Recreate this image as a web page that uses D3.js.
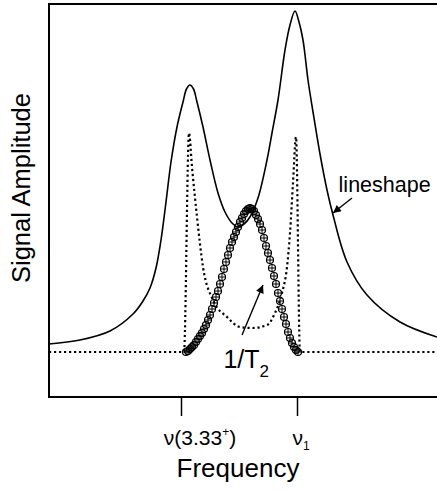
<!DOCTYPE html>
<html>
<head>
<meta charset="utf-8">
<script src="https://cdn.jsdelivr.net/npm/d3@7"></script>
<style>
  html, body { margin: 0; padding: 0; background: #fff; }
  svg { display: block; }
  text { font-family: "Liberation Sans", Arial, Helvetica, sans-serif; fill: #000; }
</style>
</head>
<body>
<svg id="chart" width="437" height="491"></svg>
<script>
// Frequency axis (arbitrary units, ν(3.33+) at 0) and tick labels
const tickFreqs = [0, 29];
const tickLabels = [
  [{t: "ν(3.33"}, {t: "+", sup: true}, {t: ")"}],
  [{t: "ν"}, {t: "1", sub: true}]
];

// Solid lineshape: frequency / amplitude samples
const lineFreq = [-33, -25.25, -17.75, -12, -9.5, -7.75, -6.25, -5, -3.75, -2.5, -1, 0.5, 1.375, 2.25, 3.125, 4, 5.5,
  7.25, 9.25, 11, 12.75, 14.25, 15.75, 17.25, 19.25, 21.5, 22.75, 24.25, 26, 27.25, 28.5, 29.5, 30.5, 31.75, 33,
  34.75, 36.5, 38, 41.5, 46.5, 54.75, 64];
const lineAmp = [8, 12, 21, 38, 51, 64, 84, 112, 150, 190, 225, 250, 263, 267, 263, 250, 225,
  192, 159, 140, 129, 125, 128, 135, 154, 192, 219, 252, 302, 327, 341, 330, 312, 272, 240,
  198, 162, 137, 90, 57, 30, 15];

// Dotted distribution curve
const dotFreq = [-33, 0.75, 2, 2.75, 4, 5.5, 8, 11.5, 14.75, 18, 21.5, 23.5, 25.25, 26.5, 27.25, 28, 28.75, 29.75, 64];
const dotAmp  = [0, 0, 219, 185, 135, 85, 52, 35, 25, 24, 27, 39, 59, 85, 119, 169, 215, 0, 0];

// 1/T2 points (circled-plus markers)
const t2Freq = [1.25, 1.75, 2.25, 2.75, 3.25, 3.75, 4.25, 4.75, 5.25, 5.75, 6.25, 6.75, 7.25, 7.75, 8.25, 8.75,
  9.25, 9.75, 10.25, 10.75, 11.25, 11.75, 12.25, 12.75, 13.25, 13.75, 14.25, 14.75, 15.25, 15.75, 16.25, 16.75,
  17.25, 17.75, 18.25, 18.75, 19.25, 19.75, 20.25, 20.75, 21.25, 21.75, 22.25, 22.75, 23.25, 23.75, 24.25, 24.75,
  25.25, 25.75, 26.25, 26.75, 27.25, 27.75, 28.25, 28.75, 29.25];
const t2Amp = [0, 1, 3, 5, 7, 10, 13, 16, 19, 23, 27, 32, 37, 43, 49, 55, 61, 68, 75, 83, 90, 97, 104, 110, 115,
  120, 125, 130, 134, 138, 141, 143, 144, 143, 141, 137, 133, 128, 122, 114, 106, 99, 92, 84, 76, 68, 59, 51,
  43, 35, 28, 20, 14, 9, 5, 2, 0];

const svg = d3.select("#chart");
const W = 437;
const plotLeft = 49, plotTop = 4, plotBottom = 397;

const x = d3.scaleLinear().domain([-33, 64]).range([plotLeft, W]);
const y = d3.scaleLinear().domain([-45, 348]).range([plotBottom, plotTop]);

// arrowhead
svg.append("defs").append("marker")
  .attr("id", "arrow").attr("markerUnits", "userSpaceOnUse")
  .attr("viewBox", "0 0 10 10").attr("refX", 10).attr("refY", 5)
  .attr("markerWidth", 10).attr("markerHeight", 8).attr("orient", "auto")
  .append("path").attr("d", "M0,0 L10,5 L0,10 Z").attr("fill", "#000");

const g = svg.append("g");

// dotted curve
g.append("path")
  .datum(dotFreq.map((f, i) => [f, dotAmp[i]]))
  .attr("fill", "none").attr("stroke", "#000").attr("stroke-width", 2.2)
  .attr("stroke-dasharray", "2.2,2.8")
  .attr("d", d3.line().x(d => x(d[0])).y(d => y(d[1])).curve(d3.curveMonotoneX));

// solid lineshape
g.append("path")
  .datum(lineFreq.map((f, i) => [f, lineAmp[i]]))
  .attr("fill", "none").attr("stroke", "#000").attr("stroke-width", 1.6)
  .attr("d", d3.line().x(d => x(d[0])).y(d => y(d[1])).curve(d3.curveCatmullRom.alpha(0.5)));

// circled-plus markers
const r = 3.5;
const mk = g.append("g").selectAll("g")
  .data(t2Freq.map((f, i) => [f, t2Amp[i]]))
  .join("g")
  .attr("transform", d => `translate(${x(d[0])},${y(d[1])})`);
mk.append("circle").attr("r", r).attr("fill", "none").attr("stroke", "#000").attr("stroke-width", 1.2);
mk.append("path").attr("d", `M${-r},0H${r}M0,${-r}V${r}`).attr("stroke", "#000").attr("stroke-width", 1);

// frame: left, top and bottom edges
svg.append("path")
  .attr("d", `M${W},${plotTop}H${plotLeft}V${plotBottom}H${W}`)
  .attr("fill", "none").attr("stroke", "#000").attr("stroke-width", 2);

// x ticks
const axis = svg.append("g").attr("transform", `translate(0,${plotBottom})`)
  .call(d3.axisBottom(x).tickValues(tickFreqs).tickSize(19).tickFormat(""));
axis.select(".domain").remove();
axis.selectAll(".tick line").attr("stroke", "#000").attr("stroke-width", 1.5);

const labelShift = [19, 4];
tickFreqs.forEach((f, i) => {
  const t = svg.append("text")
    .attr("x", x(f) + labelShift[i]).attr("y", 445)
    .attr("text-anchor", "middle").attr("font-size", 21);
  tickLabels[i].forEach((p, j) => {
    const ts = t.append("tspan").text(p.t);
    if (p.sup) ts.attr("font-size", 12).attr("dy", -9);
    else if (p.sub) ts.attr("font-size", 12).attr("dy", 5);
    else if (j > 0) ts.attr("dy", 9);
  });
});

// axis titles
svg.append("text").attr("x", 238).attr("y", 477).attr("text-anchor", "middle")
  .attr("font-size", 26).text("Frequency");
svg.append("text").attr("transform", "translate(30,188) rotate(-90)").attr("text-anchor", "middle")
  .attr("font-size", 25.5).text("Signal Amplitude");

// annotations
svg.append("text").attr("x", x(39.4)).attr("y", y(160)).attr("font-size", 21.5).text("lineshape");
svg.append("line")
  .attr("x1", x(42.75)).attr("y1", y(154)).attr("x2", x(38)).attr("y2", y(139))
  .attr("stroke", "#000").attr("stroke-width", 1.4).attr("marker-end", "url(#arrow)");

const tt = svg.append("text").attr("x", x(10.6)).attr("y", y(-16)).attr("font-size", 25);
tt.append("tspan").text("1/T");
tt.append("tspan").attr("font-size", 17).attr("dy", 9).text("2");
svg.append("line")
  .attr("x1", x(15.25)).attr("y1", y(17)).attr("x2", x(20.5)).attr("y2", y(67))
  .attr("stroke", "#000").attr("stroke-width", 1.4).attr("marker-end", "url(#arrow)");
</script>
</body>
</html>
